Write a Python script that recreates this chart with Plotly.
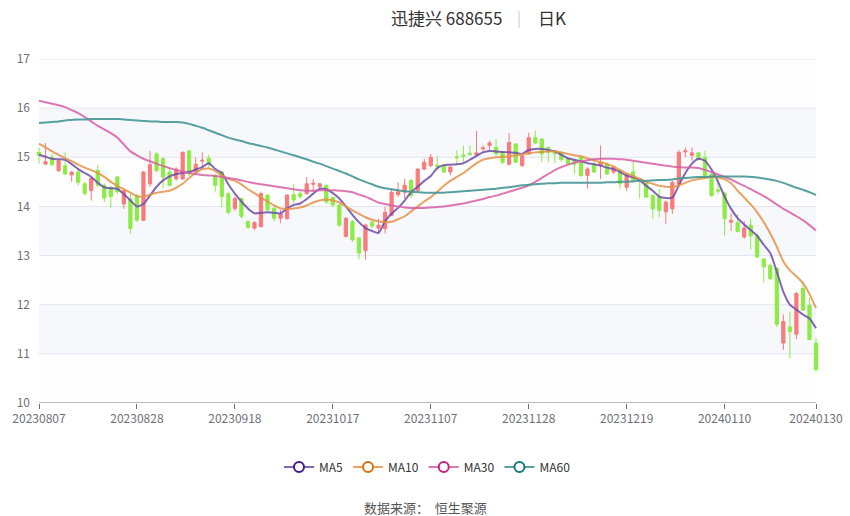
import pandas as pd
import plotly.graph_objects as go

# ---------------- data ----------------
holidays = ["2023-09-29", "2023-10-02", "2023-10-03", "2023-10-04", "2023-10-05",
            "2023-10-06", "2024-01-01"]
dates = [d.strftime("%Y%m%d") for d in pd.bdate_range("2023-08-07", "2024-01-30")
         if d.strftime("%Y-%m-%d") not in holidays]

open_ = [15.10, 14.86, 15.00, 14.73, 14.83, 14.64, 14.70, 14.46, 14.32, 14.73,
         14.43, 14.38, 14.60, 14.05, 14.15, 14.22, 13.72, 14.46, 15.07, 14.97,
         14.70, 14.56, 14.56, 15.13, 14.70, 14.92, 14.98, 14.63, 14.70, 14.26,
         13.96, 14.16, 13.69, 13.56, 13.59, 14.23, 13.96, 13.76, 13.75, 14.24,
         14.26, 14.26, 14.45, 14.40, 14.43, 14.18, 14.03, 13.39, 13.69, 13.36,
         13.10, 13.68, 13.56, 13.55, 13.82, 14.24, 14.29, 14.53, 14.32, 14.76,
         14.83, 14.84, 14.83, 14.70, 15.01, 15.04, 15.08, 15.05, 15.17, 15.24,
         15.20, 15.10, 14.86, 15.27, 14.83, 15.07, 15.40, 15.37, 15.20, 15.13,
         15.10, 14.97, 14.93, 15.00, 14.63, 14.86, 14.83, 14.86, 14.70, 14.73,
         14.39, 14.70, 14.57, 14.49, 14.22, 14.19, 13.89, 13.95, 14.45, 15.11,
         15.04, 15.09, 15.00, 14.65, 14.34, 14.27, 13.68, 13.67, 13.38, 13.62,
         13.40, 12.93, 12.80, 12.74, 11.22, 11.55, 11.40, 12.33, 11.99, 11.22]
close = [15.04, 14.91, 14.85, 14.93, 14.66, 14.70, 14.49, 14.27, 14.57, 14.43,
         14.17, 14.20, 14.30, 14.32, 13.55, 13.72, 14.70, 14.85, 14.73, 14.60,
         14.43, 14.76, 15.10, 14.66, 14.86, 14.94, 14.86, 14.43, 14.20, 13.88,
         14.16, 13.80, 13.57, 13.67, 14.26, 13.93, 13.76, 13.84, 14.23, 14.13,
         14.20, 14.46, 14.47, 14.46, 14.09, 14.03, 13.62, 13.76, 13.32, 13.05,
         13.62, 13.60, 13.62, 13.88, 14.29, 14.30, 14.43, 14.22, 14.76, 14.90,
         15.00, 14.82, 14.70, 14.80, 14.99, 15.02, 15.06, 15.09, 15.19, 15.29,
         15.07, 14.90, 15.30, 14.90, 15.03, 15.40, 15.29, 15.07, 15.10, 15.07,
         14.95, 14.87, 14.86, 14.63, 14.76, 14.70, 14.90, 14.66, 14.80, 14.46,
         14.63, 14.53, 14.55, 14.19, 13.95, 13.92, 14.09, 14.49, 15.10, 15.13,
         15.09, 14.96, 14.62, 14.22, 14.31, 13.75, 13.72, 13.49, 13.56, 13.40,
         12.97, 12.77, 12.53, 11.60, 11.66, 11.45, 12.23, 11.89, 11.29, 10.68]
high = [15.20, 15.29, 15.07, 14.95, 15.10, 14.72, 14.78, 14.50, 14.60, 14.84,
        14.47, 14.42, 14.62, 14.35, 14.29, 14.25, 14.72, 15.13, 15.10, 15.00,
        14.80, 14.80, 15.12, 15.14, 15.00, 15.10, 15.05, 14.66, 14.72, 14.30,
        14.20, 14.18, 13.72, 13.70, 14.30, 14.25, 14.00, 13.93, 14.25, 14.46,
        14.30, 14.60, 14.56, 14.48, 14.45, 14.20, 14.05, 13.78, 13.72, 13.38,
        13.65, 13.72, 13.75, 14.00, 14.36, 14.49, 14.56, 14.56, 14.78, 14.97,
        15.07, 15.03, 14.86, 14.82, 15.14, 15.24, 15.24, 15.54, 15.24, 15.34,
        15.37, 15.12, 15.50, 15.29, 15.06, 15.50, 15.54, 15.39, 15.22, 15.15,
        15.12, 15.00, 14.97, 15.02, 14.80, 14.96, 15.24, 14.90, 14.83, 14.76,
        14.66, 14.93, 14.58, 14.53, 14.25, 14.36, 14.12, 14.52, 15.15, 15.20,
        15.20, 15.10, 15.14, 14.70, 14.55, 14.30, 13.86, 13.85, 13.70, 13.75,
        13.45, 12.95, 12.84, 12.76, 11.80, 11.86, 12.26, 12.47, 12.15, 11.32]
low = [14.87, 14.85, 14.82, 14.70, 14.64, 14.50, 14.43, 14.22, 14.12, 14.40,
       14.09, 13.97, 14.25, 13.95, 13.45, 13.68, 13.70, 14.40, 14.70, 14.36,
       14.40, 14.52, 14.54, 14.62, 14.65, 14.75, 14.78, 14.30, 13.98, 13.83,
       13.90, 13.76, 13.55, 13.52, 13.57, 13.90, 13.70, 13.66, 13.73, 14.06,
       14.15, 14.24, 14.30, 14.35, 14.05, 13.98, 13.58, 13.37, 13.28, 12.92,
       12.92, 13.55, 13.45, 13.45, 13.80, 14.19, 14.16, 14.18, 14.30, 14.74,
       14.80, 14.76, 14.68, 14.63, 14.83, 14.90, 15.03, 15.03, 15.10, 15.14,
       15.03, 14.86, 14.83, 14.88, 14.80, 15.05, 15.27, 14.90, 14.90, 14.88,
       14.92, 14.84, 14.66, 14.60, 14.36, 14.68, 14.56, 14.64, 14.66, 14.36,
       14.32, 14.49, 14.16, 14.17, 13.75, 13.78, 13.65, 13.85, 14.40, 15.00,
       14.93, 14.93, 14.58, 14.20, 14.25, 13.41, 13.50, 13.47, 13.34, 13.13,
       12.95, 12.45, 12.50, 11.55, 11.08, 10.91, 11.30, 11.88, 11.28, 10.64]

ma5 = [15.05, 15.01, 14.97, 14.96, 14.95, 14.86, 14.76, 14.68, 14.60, 14.48,
       14.39, 14.37, 14.36, 14.25, 14.12, 14.00, 14.05, 14.22, 14.40, 14.53,
       14.61, 14.66, 14.68, 14.70, 14.75, 14.80, 14.88, 14.76, 14.68, 14.45,
       14.26, 14.10, 13.96, 13.86, 13.87, 13.88, 13.87, 13.86, 13.96, 14.03,
       14.06, 14.15, 14.26, 14.36, 14.35, 14.27, 14.16, 14.00, 13.83, 13.68,
       13.56, 13.50, 13.46, 13.70, 13.85, 13.97, 14.12, 14.29, 14.40, 14.52,
       14.62, 14.78, 14.84, 14.85, 14.86, 14.88, 14.95, 15.03, 15.10, 15.13,
       15.12, 15.11, 15.10, 15.09, 15.07, 15.15, 15.17, 15.17, 15.15, 15.12,
       15.05, 14.98, 14.95, 14.92, 14.88, 14.86, 14.83, 14.79, 14.76, 14.70,
       14.63, 14.59, 14.53, 14.42, 14.32, 14.20, 14.17, 14.18, 14.43, 14.68,
       14.87, 14.97, 14.93, 14.75, 14.50, 14.20, 13.95, 13.76, 13.63, 13.52,
       13.40, 13.22, 13.05, 12.67, 12.26, 12.00, 11.90, 11.80, 11.72, 11.52]
ma10 = [15.28, 15.20, 15.12, 15.05, 14.98, 14.92, 14.85, 14.79, 14.74, 14.68,
        14.60, 14.50, 14.42, 14.35, 14.28, 14.21, 14.20, 14.24, 14.28, 14.30,
        14.32, 14.38, 14.46, 14.58, 14.68, 14.76, 14.77, 14.72, 14.63, 14.56,
        14.52, 14.45, 14.35, 14.27, 14.18, 14.10, 14.02, 13.96, 13.95, 13.96,
        13.98, 14.02, 14.08, 14.12, 14.14, 14.12, 14.08, 14.00, 13.92, 13.85,
        13.78, 13.73, 13.70, 13.68, 13.69, 13.74, 13.80, 13.90, 14.00, 14.10,
        14.19, 14.30, 14.42, 14.52, 14.60, 14.68, 14.78, 14.88, 14.95, 14.98,
        15.00, 15.01, 15.02, 15.04, 15.06, 15.08, 15.10, 15.11, 15.12, 15.12,
        15.10, 15.07, 15.04, 15.02, 14.98, 14.94, 14.90, 14.86, 14.81, 14.74,
        14.67, 14.62, 14.56, 14.50, 14.46, 14.42, 14.40, 14.39, 14.43, 14.48,
        14.53, 14.56, 14.58, 14.60, 14.59, 14.55, 14.47, 14.32, 14.18, 14.04,
        13.88, 13.68, 13.45, 13.18, 12.88, 12.70, 12.58, 12.44, 12.22, 11.93]
ma30 = [16.15, 16.12, 16.09, 16.06, 16.02, 15.96, 15.90, 15.82, 15.73, 15.64,
        15.57, 15.49, 15.40, 15.26, 15.12, 15.04, 14.97, 14.92, 14.87, 14.82,
        14.78, 14.74, 14.71, 14.68, 14.66, 14.64, 14.63, 14.62, 14.60, 14.58,
        14.56, 14.53, 14.50, 14.47, 14.45, 14.43, 14.41, 14.39, 14.37, 14.35,
        14.33, 14.32, 14.32, 14.33, 14.33, 14.33, 14.32, 14.31, 14.29, 14.24,
        14.20, 14.14, 14.08, 14.05, 14.02, 14.00, 13.98, 13.97, 13.97, 13.97,
        13.98, 13.99, 14.00, 14.02, 14.04, 14.06, 14.09, 14.12, 14.15, 14.19,
        14.22, 14.26, 14.30, 14.34, 14.38, 14.43, 14.50, 14.58, 14.66, 14.74,
        14.80, 14.85, 14.89, 14.92, 14.94, 14.96, 14.97, 14.97, 14.97, 14.96,
        14.95, 14.93, 14.91, 14.89, 14.87, 14.85, 14.83, 14.81, 14.80, 14.79,
        14.79, 14.78, 14.74, 14.70, 14.65, 14.60, 14.55, 14.48, 14.42, 14.35,
        14.28, 14.21, 14.13, 14.04, 13.95, 13.88, 13.80, 13.72, 13.62, 13.51]
ma60 = [15.70, 15.71, 15.72, 15.73, 15.75, 15.76, 15.77, 15.77, 15.78, 15.78,
        15.78, 15.78, 15.78, 15.77, 15.76, 15.75, 15.74, 15.73, 15.73, 15.72,
        15.72, 15.72, 15.71, 15.68, 15.64, 15.60, 15.55, 15.50, 15.45, 15.40,
        15.36, 15.33, 15.29, 15.26, 15.23, 15.20, 15.16, 15.12, 15.08, 15.04,
        15.00, 14.96, 14.91, 14.87, 14.82, 14.77, 14.72, 14.67, 14.61, 14.55,
        14.50, 14.45, 14.40, 14.37, 14.35, 14.33, 14.31, 14.30, 14.29, 14.28,
        14.28, 14.28, 14.28, 14.29, 14.30, 14.31, 14.32, 14.33, 14.34, 14.35,
        14.36, 14.38, 14.39, 14.41, 14.43, 14.44, 14.45, 14.46, 14.47, 14.47,
        14.48, 14.48, 14.48, 14.48, 14.48, 14.48, 14.48, 14.49, 14.49, 14.50,
        14.50, 14.51, 14.52, 14.52, 14.53, 14.54, 14.54, 14.55, 14.57, 14.58,
        14.59, 14.60, 14.60, 14.61, 14.61, 14.61, 14.61, 14.61, 14.61, 14.60,
        14.59, 14.57, 14.55, 14.52, 14.48, 14.43, 14.38, 14.34, 14.29, 14.23]

tick_dates = ["20230807", "20230828", "20230918", "20231017", "20231107",
              "20231128", "20231219", "20240110", "20240130"]
y_ticks = [10, 11, 12, 13, 14, 15, 16, 17]

ma_names = ["MA5", "MA10", "MA30", "MA60"]
ma_values = [ma5, ma10, ma30, ma60]
ma_dark = ["#3F1A8C", "#D9700F", "#C8207F", "#0F7A78"]
ma_line = ["rgba(110,75,170,0.85)", "rgba(228,146,72,0.85)",
           "rgba(215,95,165,0.85)", "rgba(70,150,150,0.9)"]

# ---------------- figure ----------------
idx = list(range(len(dates)))
FONT = "Noto Sans CJK SC, Noto Sans, sans-serif"
fig = go.Figure()

fig.add_trace(go.Candlestick(
    x=idx, open=open_, high=high, low=low, close=close,
    increasing=dict(line=dict(color="#F97B7B", width=1), fillcolor="#F97B7B"),
    decreasing=dict(line=dict(color="#8DEB45", width=1), fillcolor="#8DEB45"),
    whiskerwidth=0, showlegend=False, hoverinfo="skip"))

for name, vals, dark, lc in zip(ma_names, ma_values, ma_dark, ma_line):
    fig.add_trace(go.Scatter(x=idx, y=vals, mode="lines",
                             line=dict(color=lc, width=2, shape="spline", smoothing=0.6),
                             showlegend=False, hoverinfo="skip"))
    fig.add_trace(go.Scatter(x=[None], y=[None], mode="lines+markers", name=name,
                             line=dict(color=lc, width=2),
                             marker=dict(symbol="circle", size=10, color="white",
                                         line=dict(color=dark, width=2)),
                             showlegend=True))

n_last = len(dates) - 1
shapes = []
# split areas (alternating bands)
for k in range(len(y_ticks) - 1):
    col = "rgba(246,248,252,1)" if k % 2 == 1 else "rgba(254,254,254,1)"
    shapes.append(dict(type="rect", xref="x", yref="y", x0=0, x1=n_last,
                       y0=y_ticks[k], y1=y_ticks[k + 1], fillcolor=col,
                       line=dict(width=0), layer="below"))
# grid lines
for yv in y_ticks[1:]:
    shapes.append(dict(type="line", xref="x", yref="y", x0=0, x1=n_last, y0=yv, y1=yv,
                       line=dict(color="#E0E6F1", width=1), layer="below"))
# x axis line
shapes.append(dict(type="line", xref="x", yref="y", x0=0, x1=n_last, y0=10, y1=10,
                   line=dict(color="#6E7079", width=1), layer="above"))

tickvals = [dates.index(d) for d in tick_dates]
pad = 4 / (777 / n_last)

fig.update_layout(
    width=850, height=516,
    margin=dict(l=35, r=30, t=59, b=113, autoexpand=False),
    paper_bgcolor="white", plot_bgcolor="white",
    font=dict(family=FONT, size=12, color="#6E7079"),
    shapes=shapes,
    xaxis=dict(range=[-pad, n_last + pad], tickmode="array", tickvals=tickvals,
               ticktext=tick_dates, ticks="outside", ticklen=5, tickcolor="#6E7079",
               showgrid=False, zeroline=False, showline=False, automargin=False,
               rangeslider=dict(visible=False),
               tickfont=dict(family=FONT, size=12, color="#6E7079")),
    yaxis=dict(range=[10, 17], tickmode="array", tickvals=y_ticks,
               showgrid=False, zeroline=False, showline=False, ticks="", automargin=False,
               ticklabelstandoff=4,
               tickfont=dict(family=FONT, size=12, color="#6E7079")),
    legend=dict(orientation="h", x=0.5, xanchor="center", y=-0.186, yanchor="middle",
                font=dict(family=FONT, size=12, color="#333333"),
                itemwidth=30, bgcolor="rgba(0,0,0,0)"),
    showlegend=True,
)

def px2paper_x(px):
    return (px - 35) / 785

def px2paper_y(py):
    return (403 - py) / 344

fig.add_annotation(text="迅捷兴 688655", x=px2paper_x(504), y=px2paper_y(17), xref="paper", yref="paper",
                   xanchor="right", yanchor="middle", showarrow=False,
                   font=dict(family=FONT, size=17, color="#333333"))
fig.add_annotation(text="|", x=px2paper_x(519), y=px2paper_y(17), xref="paper", yref="paper",
                   xanchor="center", yanchor="middle", showarrow=False,
                   font=dict(family=FONT, size=15, color="#D0D0D0"))
fig.add_annotation(text="日K", x=px2paper_x(536), y=px2paper_y(17), xref="paper", yref="paper",
                   xanchor="left", yanchor="middle", showarrow=False,
                   font=dict(family=FONT, size=17, color="#333333"))
fig.add_annotation(text="数据来源：  恒生聚源", x=px2paper_x(425), y=px2paper_y(508), xref="paper", yref="paper",
                   xanchor="center", yanchor="middle", showarrow=False,
                   font=dict(family=FONT, size=13, color="#555555"))

fig.write_html("out.html", config={"displayModeBar": False},
               post_script="document.body.style.margin='0';document.body.style.overflow='hidden';")
